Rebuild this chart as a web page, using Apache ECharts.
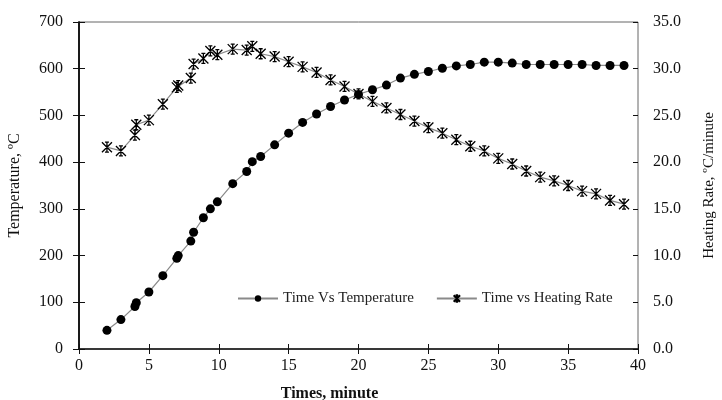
<!DOCTYPE html>
<html><head><meta charset="utf-8">
<script src="https://cdn.jsdelivr.net/npm/echarts@6/dist/echarts.min.js"></script>
<style>html,body{margin:0;padding:0;background:#fff}#c{width:722px;height:400px}</style>
</head><body><div id="c"></div>
<script>
var times = [2,3,4,4.1,5,6,7,7.1,8,8.2,8.9,9.4,9.9,11,12,12.4,13,14,15,16,17,18,19,20,21,22,23,24,25,26,27,28,29,30,31,32,33,34,35,36,37,38,39];
var temperature = [40,63,91,99,122,157,194,200,231,250,281,300,315,354,380,401,412,437,462,485,503,519,533,545,555,565,580,588,594,601,606,609,614,614,612,609,609,609,609,609,607,607,607];
var heatingRate = [21.6,21.2,22.9,24.0,24.5,26.2,28.0,28.2,29.0,30.5,31.1,31.9,31.5,32.1,32.0,32.4,31.6,31.3,30.75,30.2,29.6,28.8,28.1,27.3,26.5,25.8,25.1,24.4,23.7,23.1,22.4,21.7,21.2,20.4,19.8,19.05,18.4,18.0,17.5,16.9,16.6,15.9,15.5];
var xTicks = [0,5,10,15,20,25,30,35,40];
var leftTicks = [0,100,200,300,400,500,600,700];
var rightTicks = [0,5,10,15,20,25,30,35];

var font = 'Liberation Serif';
var ink = '#111';
function pairs(xs, ys){ return xs.map(function(x,i){ return [x, ys[i]]; }); }
var crossPath = 'path://M0,0L10,10M10,0L0,10M5,0L5,10M3,0L7,0M3,10L7,10';

var chart = echarts.init(document.getElementById('c'));
chart.setOption({
  animation: false,
  backgroundColor: '#fff',
  grid: { left: 79, right: 84, top: 22, bottom: 51, show: true, borderColor: '#666', borderWidth: 1, outerBoundsMode: 'none', containLabel: false },
  legend: {
    left: 232, top: 286, itemWidth: 40, itemHeight: 8, itemGap: 22,
    textStyle: { fontFamily: font, fontSize: 15, color: '#222' },
    data: ['Time Vs Temperature', 'Time vs Heating Rate']
  },
  xAxis: [{
    type: 'value', min: xTicks[0], max: xTicks[xTicks.length-1], interval: 5, position: 'bottom',
    name: 'Times, minute', nameLocation: 'middle', nameGap: 37,
    nameTextStyle: { fontFamily: font, fontSize: 16, fontWeight: 'bold', color: ink, padding: [0, 58, 0, 0] },
    axisLine: { lineStyle: { color: ink, width: 1.5 } },
    axisTick: { length: 5, lineStyle: { color: ink } },
    axisLabel: { fontFamily: font, fontSize: 16, color: ink, margin: 9 },
    splitLine: { show: false }
  }, {
    type: 'value', min: xTicks[0], max: xTicks[xTicks.length-1], interval: 5, position: 'bottom',
    axisLine: { show: false }, axisTick: { inside: true, length: 5, lineStyle: { color: ink } },
    axisLabel: { show: false }, splitLine: { show: false }
  }],
  yAxis: [{
    type: 'value', min: leftTicks[0], max: leftTicks[leftTicks.length-1], interval: 100, position: 'left',
    name: 'Temperature, ºC', nameLocation: 'middle', nameGap: 56, nameRotate: 90,
    nameTextStyle: { fontFamily: font, fontSize: 16, color: ink },
    axisLine: { show: true, lineStyle: { color: ink, width: 1.5 } },
    axisTick: { show: true, length: 6, lineStyle: { color: ink } },
    axisLabel: { fontFamily: font, fontSize: 16, color: ink, margin: 16 },
    splitLine: { show: false }
  }, {
    type: 'value', min: rightTicks[0], max: rightTicks[rightTicks.length-1], interval: 5, position: 'right',
    name: 'Heating Rate, ºC/minute', nameLocation: 'middle', nameGap: 64, nameRotate: 90,
    nameTextStyle: { fontFamily: font, fontSize: 15, color: ink },
    axisLine: { show: true, lineStyle: { color: ink, width: 1.5 } },
    axisTick: { show: true, length: 6, lineStyle: { color: ink } },
    axisLabel: { fontFamily: font, fontSize: 16, color: ink, margin: 15, formatter: function(v){ return v.toFixed(1); } },
    splitLine: { show: false }
  }, {
    type: 'value', min: leftTicks[0], max: leftTicks[leftTicks.length-1], interval: 100, position: 'left',
    axisLine: { show: false }, axisTick: { show: true, inside: true, length: 5, lineStyle: { color: ink } },
    axisLabel: { show: false }, splitLine: { show: false }
  }, {
    type: 'value', min: rightTicks[0], max: rightTicks[rightTicks.length-1], interval: 5, position: 'right',
    axisLine: { show: false }, axisTick: { show: true, inside: true, length: 5, lineStyle: { color: ink } },
    axisLabel: { show: false }, splitLine: { show: false }
  }],
  series: [{
    name: 'Time Vs Temperature', type: 'line', xAxisIndex: 0, yAxisIndex: 0,
    data: pairs(times, temperature),
    symbol: 'circle', symbolSize: 9,
    lineStyle: { color: '#8a8a8a', width: 1.2 },
    itemStyle: { color: '#000' }
  }, {
    name: 'Time vs Heating Rate', type: 'line', xAxisIndex: 0, yAxisIndex: 1,
    data: pairs(times, heatingRate),
    symbol: crossPath, symbolSize: 10,
    lineStyle: { color: '#8a8a8a', width: 1.2 },
    itemStyle: { color: '#000', borderColor: '#000', borderWidth: 1.3 }
  }]
});
</script></body></html>
